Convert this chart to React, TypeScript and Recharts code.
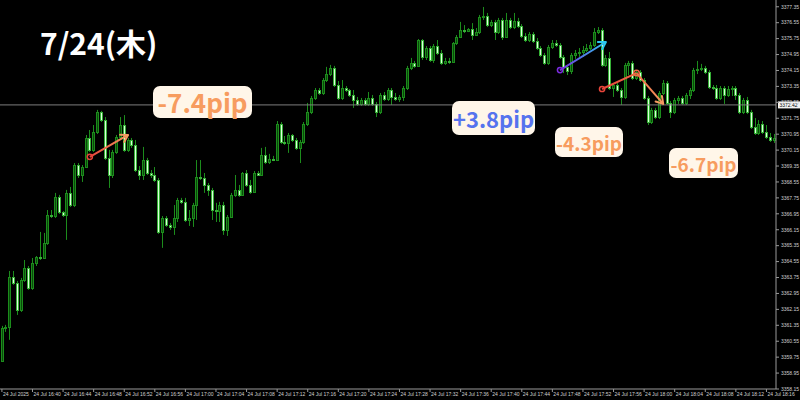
import { ComposedChart, Bar, XAxis, YAxis, ReferenceLine } from "recharts";

// x axis labels, one every 8 candles
const tickLabels = [
  "24 Jul 2025", "24 Jul 16:40", "24 Jul 16:44", "24 Jul 16:48", "24 Jul 16:52", "24 Jul 16:56",
  "24 Jul 17:00", "24 Jul 17:04", "24 Jul 17:08", "24 Jul 17:12", "24 Jul 17:16", "24 Jul 17:20",
  "24 Jul 17:24", "24 Jul 17:28", "24 Jul 17:32", "24 Jul 17:36", "24 Jul 17:40", "24 Jul 17:44",
  "24 Jul 17:48", "24 Jul 17:52", "24 Jul 17:56", "24 Jul 18:00", "24 Jul 18:04", "24 Jul 18:08",
  "24 Jul 18:12", "24 Jul 18:16",
];

const priceTicks = [
  3358.15, 3358.95, 3359.75, 3360.55, 3361.35, 3362.15, 3362.95, 3363.75, 3364.55, 3365.35,
  3366.15, 3366.95, 3367.75, 3368.55, 3369.35, 3370.15, 3370.95, 3371.75, 3372.55, 3373.35,
  3374.15, 3374.95, 3375.75, 3376.55, 3377.35,
];

const currentPrice = 3372.42;
const firstOpen = 3359.56;

const closes = [
  3361.22, 3361.27, 3363.78, 3363.48, 3362.12, 3363.63, 3364.23, 3363.23, 3364.48, 3364.78,
  3364.73, 3365.49, 3366.89, 3366.84, 3367.80, 3367.04, 3366.89, 3368.00, 3367.39, 3369.40,
  3368.90, 3369.30, 3370.76, 3370.16, 3371.06, 3372.07, 3371.66, 3369.76, 3368.90, 3370.06,
  3370.81, 3371.41, 3370.16, 3370.66, 3370.41, 3369.15, 3368.90, 3369.65, 3369.00, 3368.90,
  3368.65, 3366.04, 3366.74, 3366.39, 3366.29, 3366.74, 3367.65, 3367.55, 3366.64, 3366.74,
  3367.39, 3368.80, 3368.75, 3368.40, 3368.15, 3367.14, 3367.09, 3367.39, 3366.14, 3366.79,
  3367.90, 3368.15, 3367.90, 3369.00, 3368.40, 3368.05, 3369.00, 3368.90, 3369.91, 3369.55,
  3369.71, 3369.65, 3371.46, 3370.56, 3370.51, 3370.91, 3370.66, 3370.26, 3370.56, 3371.46,
  3372.07, 3372.77, 3373.17, 3373.02, 3373.67, 3373.97, 3374.28, 3373.42, 3372.77, 3373.27,
  3373.17, 3372.92, 3372.67, 3372.47, 3372.67, 3372.47, 3372.77, 3372.47, 3372.07, 3372.92,
  3372.72, 3373.17, 3372.82, 3372.72, 3372.82, 3373.27, 3374.28, 3374.53, 3374.38, 3375.68,
  3374.83, 3375.28, 3374.68, 3375.38, 3375.03, 3374.53, 3374.63, 3374.58, 3375.53, 3375.83,
  3376.18, 3376.13, 3376.23, 3375.93, 3376.08, 3376.84, 3376.89, 3376.43, 3376.59, 3376.08,
  3376.69, 3375.83, 3376.69, 3376.33, 3376.64, 3376.38, 3375.88, 3375.68, 3375.98, 3375.63,
  3375.28, 3374.93, 3374.53, 3375.33, 3375.53, 3375.43, 3374.83, 3374.33, 3374.12, 3374.93,
  3375.03, 3375.08, 3375.18, 3375.28, 3375.43, 3376.08, 3376.18, 3374.43, 3374.78, 3373.27,
  3373.42, 3373.17, 3372.82, 3374.43, 3374.53, 3373.77, 3374.07, 3373.67, 3372.77, 3371.56,
  3372.17, 3371.81, 3373.02, 3373.52, 3372.52, 3372.07, 3372.67, 3372.77, 3372.52, 3372.92,
  3373.17, 3374.17, 3374.22, 3374.28, 3374.07, 3373.32, 3373.27, 3372.77, 3373.27, 3372.92,
  3373.22, 3373.27, 3372.92, 3372.07, 3372.67, 3372.07, 3371.31, 3371.01, 3371.46, 3371.06,
  3370.81, 3370.66, 3370.76,
];

const highs = [
  3361.32, 3361.37, 3364.08, 3364.08, 3363.58, 3363.73, 3364.63, 3364.33, 3364.73, 3364.83,
  3366.04, 3365.99, 3367.14, 3367.14, 3368.00, 3367.90, 3367.09, 3368.15, 3368.30, 3369.50,
  3369.50, 3369.40, 3370.91, 3371.16, 3371.41, 3372.17, 3372.12, 3371.81, 3370.16, 3370.16,
  3370.91, 3371.81, 3371.91, 3370.76, 3370.76, 3370.66, 3369.35, 3370.31, 3369.76, 3369.15,
  3369.30, 3368.75, 3366.84, 3366.84, 3366.49, 3367.39, 3367.75, 3367.75, 3367.75, 3367.14,
  3367.50, 3369.65, 3369.65, 3369.00, 3368.50, 3368.25, 3367.50, 3367.55, 3367.55, 3366.89,
  3368.00, 3368.90, 3368.40, 3369.05, 3369.15, 3368.65, 3369.10, 3369.10, 3370.26, 3370.31,
  3369.96, 3369.86, 3371.61, 3371.56, 3370.86, 3371.01, 3370.96, 3370.76, 3370.66, 3371.56,
  3372.52, 3372.87, 3373.27, 3373.27, 3373.77, 3374.33, 3374.43, 3374.38, 3373.62, 3373.67,
  3373.37, 3373.22, 3373.17, 3372.82, 3372.77, 3372.77, 3373.07, 3372.92, 3372.57, 3373.02,
  3373.07, 3373.27, 3373.27, 3373.02, 3372.92, 3373.37, 3374.38, 3374.78, 3374.63, 3375.73,
  3375.73, 3375.38, 3375.38, 3375.48, 3375.68, 3375.18, 3374.78, 3374.78, 3375.58, 3375.93,
  3376.59, 3376.43, 3376.28, 3376.53, 3376.28, 3376.94, 3377.34, 3377.04, 3376.69, 3376.69,
  3376.79, 3376.79, 3377.04, 3376.79, 3377.04, 3376.79, 3376.48, 3376.03, 3376.08, 3376.08,
  3375.78, 3375.38, 3375.03, 3375.43, 3375.68, 3375.68, 3375.53, 3374.93, 3374.43, 3375.03,
  3375.18, 3375.28, 3375.38, 3375.48, 3375.58, 3376.28, 3376.33, 3376.28, 3374.93, 3375.08,
  3373.52, 3373.52, 3373.27, 3374.53, 3374.63, 3374.63, 3374.17, 3374.17, 3373.77, 3372.87,
  3372.27, 3372.27, 3373.12, 3373.67, 3373.62, 3372.62, 3372.77, 3372.87, 3372.87, 3373.02,
  3373.27, 3374.28, 3374.63, 3374.48, 3374.38, 3374.17, 3373.42, 3373.42, 3373.37, 3373.37,
  3373.37, 3373.37, 3373.37, 3373.02, 3372.77, 3372.82, 3372.17, 3371.76, 3371.66, 3371.61,
  3371.41, 3371.01, 3370.96,
];

const lows = [
  3359.51, 3361.02, 3360.62, 3363.38, 3361.87, 3362.02, 3363.53, 3363.13, 3363.13, 3364.33,
  3364.63, 3364.68, 3365.39, 3366.74, 3366.74, 3366.94, 3366.79, 3365.64, 3367.29, 3367.29,
  3368.75, 3368.55, 3369.25, 3370.06, 3370.06, 3370.96, 3371.56, 3369.65, 3368.25, 3368.75,
  3369.96, 3370.71, 3370.06, 3370.06, 3370.26, 3369.05, 3368.65, 3368.65, 3368.90, 3368.75,
  3368.55, 3365.94, 3365.24, 3366.29, 3366.14, 3365.89, 3366.54, 3367.45, 3366.54, 3366.34,
  3366.29, 3366.64, 3368.65, 3368.00, 3367.85, 3366.64, 3366.54, 3366.54, 3365.89, 3365.84,
  3366.74, 3367.80, 3367.80, 3367.85, 3368.30, 3367.95, 3368.00, 3368.85, 3368.85, 3369.45,
  3369.45, 3369.60, 3369.60, 3370.46, 3370.41, 3370.01, 3370.56, 3370.16, 3369.50, 3370.46,
  3371.36, 3371.96, 3372.67, 3372.92, 3372.92, 3373.57, 3373.87, 3373.32, 3372.67, 3372.67,
  3373.07, 3372.82, 3372.27, 3372.37, 3372.37, 3372.37, 3372.37, 3372.37, 3371.81, 3371.96,
  3372.62, 3372.62, 3372.42, 3372.62, 3372.57, 3372.62, 3373.17, 3374.17, 3374.28, 3374.33,
  3374.68, 3374.68, 3374.58, 3374.53, 3374.93, 3374.43, 3374.43, 3374.48, 3374.53, 3375.43,
  3375.78, 3376.03, 3376.08, 3375.68, 3375.88, 3375.98, 3376.69, 3376.33, 3376.33, 3375.68,
  3375.98, 3375.68, 3375.78, 3376.23, 3376.23, 3376.28, 3375.78, 3375.58, 3375.58, 3375.53,
  3375.18, 3374.83, 3374.43, 3374.43, 3375.23, 3375.33, 3374.73, 3374.02, 3373.92, 3373.97,
  3374.73, 3374.83, 3374.83, 3375.08, 3375.18, 3375.33, 3375.98, 3374.33, 3374.33, 3373.17,
  3372.82, 3373.07, 3372.42, 3372.72, 3373.92, 3373.67, 3373.67, 3373.57, 3372.67, 3371.41,
  3371.46, 3371.71, 3371.71, 3372.92, 3372.42, 3371.76, 3371.96, 3372.47, 3372.42, 3372.42,
  3372.72, 3373.07, 3373.97, 3374.12, 3373.97, 3373.22, 3373.17, 3372.67, 3372.67, 3372.47,
  3372.82, 3372.87, 3372.67, 3371.96, 3371.96, 3371.96, 3371.21, 3370.91, 3370.91, 3370.96,
  3370.71, 3370.56, 3370.51,
];

// drawn arrows: [candle index, price] start and end
const arrowFrom = [[23, 3369.81], [146, 3374.17], [157, 3373.22], [166, 3374.02]];
const arrowTo = [[33, 3370.91], [158, 3375.58], [166, 3374.02], [173, 3372.47]];

const pipTexts = ["-7.4pip", "+3.8pip", "-4.3pip", "-6.7pip"];

const candles = closes.map((close, i) => ({
  t: i,
  open: i === 0 ? firstOpen : closes[i - 1],
  close,
  high: highs[i],
  low: lows[i],
  range: [lows[i], highs[i]],
}));

const AXIS = "#9a9a9a";
const FONT = "'Liberation Sans', Arial, sans-serif";
const JP = "'Noto Sans CJK JP', 'Noto Sans', sans-serif";
const ORANGE = "#f79c5f";

function Candle(props: any) {
  const { x, y, width, height, payload } = props;
  if (!payload) return null;
  const { open, close, high, low } = payload;
  const top = Math.min(y, y + height);
  const h = Math.abs(height);
  const k = high > low ? h / (high - low) : 0;
  const yOf = (v: number) => top + (high - v) * k;
  const cx = Math.floor(x + width / 2) + 0.5;
  const bull = close >= open;
  const bTop = Math.round(yOf(Math.max(open, close)));
  const bBot = Math.round(yOf(Math.min(open, close)));
  return (
    <g>
      <line x1={cx} x2={cx} y1={top} y2={top + h} stroke="#1c8c1c" strokeWidth={1} />
      <rect
        x={cx - 1}
        y={bTop + 0.5}
        width={2}
        height={Math.max(bBot - bTop, 0)}
        fill={bull ? "#0a4a0a" : "#dcffdc"}
        stroke={bull ? "#1c8c1c" : "#36b036"}
        strokeWidth={1}
      />
    </g>
  );
}

function XTick(props: any) {
  const { x, y, payload } = props;
  return (
    <text x={x + 1} y={y + 2} fill="#d0d0d0" fontSize={5} fontFamily={FONT} textAnchor="start">
      {tickLabels[payload.value / 8]}
    </text>
  );
}

function PriceTag(props: any) {
  const vb = props.viewBox;
  if (!vb) return null;
  const x = vb.x + vb.width + 2;
  const y = vb.y;
  return (
    <g>
      <rect x={x} y={y - 3.5} width={22} height={7} fill="#f2f2f2" />
      <text x={x + 1.5} y={y} dy="0.35em" fontSize={5} fill="#000" fontFamily={FONT}>
        {currentPrice.toFixed(2)}
      </text>
    </g>
  );
}

const arrowStyles = [
  { c1: "#e8443a", c2: "#f59a60", start: true, head: true, mid: false },
  { c1: "#7b2be0", c2: "#2cc8f0", start: true, head: true, mid: false },
  { c1: "#e8443a", c2: "#f06a45", start: true, head: false, mid: true },
  { c1: "#f06a45", c2: "#f59a60", start: false, head: true, mid: false },
];

function makeArrow(k: number) {
  const s = arrowStyles[k];
  return (p: any) => {
    const { x1, y1, x2, y2 } = p;
    if (x1 == null) return null;
    const ang = Math.atan2(y2 - y1, x2 - x1);
    const L = 8;
    const hx = (d: number) => x2 - L * Math.cos(ang + d);
    const hy = (d: number) => y2 - L * Math.sin(ang + d);
    const id = `arrowGrad${k}`;
    return (
      <g>
        <defs>
          <linearGradient id={id} gradientUnits="userSpaceOnUse" x1={x1} y1={y1} x2={x2} y2={y2}>
            <stop offset="0%" stopColor={s.c1} />
            <stop offset="100%" stopColor={s.c2} />
          </linearGradient>
        </defs>
        <line x1={x1} y1={y1} x2={x2} y2={y2} stroke={`url(#${id})`} strokeWidth={2} />
        {s.start && <circle cx={x1} cy={y1} r={2.6} fill="none" stroke={s.c1} strokeWidth={1.5} />}
        {s.mid && <circle cx={x2} cy={y2} r={2.8} fill="none" stroke={s.c2} strokeWidth={1.5} />}
        {s.head && (
          <polyline
            points={`${hx(0.55)},${hy(0.55)} ${x2},${y2} ${hx(-0.55)},${hy(-0.55)}`}
            fill="none"
            stroke={s.c2}
            strokeWidth={2}
            strokeLinecap="round"
            strokeLinejoin="round"
          />
        )}
      </g>
    );
  };
}

const boxBase = {
  position: "absolute" as const,
  background: "#fff6e9",
  borderRadius: 7,
  display: "flex",
  alignItems: "center",
  justifyContent: "center",
  fontFamily: JP,
  fontWeight: 700,
  lineHeight: 1,
};

export default function App() {
  return (
    <div style={{ position: "relative", width: 800, height: 400, background: "#000", overflow: "hidden" }}>
      <style>{"body{margin:0;background:#000}"}</style>
      <ComposedChart
        width={800}
        height={400}
        data={candles}
        margin={{ top: 0, right: 0, bottom: 0, left: 0 }}
        barCategoryGap={0}
        barGap={0}
      >
        <XAxis
          dataKey="t"
          ticks={tickLabels.map((_, k) => k * 8)}
          interval={0}
          height={11}
          tick={<XTick />}
          tickSize={3}
          axisLine={{ stroke: AXIS }}
          tickLine={{ stroke: AXIS }}
        />
        <YAxis
          orientation="right"
          width={24}
          domain={[3358.15, 3377.69]}
          allowDataOverflow
          ticks={priceTicks}
          interval={0}
          tickSize={3}
          tickMargin={2}
          tick={{ fill: "#d0d0d0", fontSize: 5, fontFamily: FONT }}
          tickFormatter={(v: number) => v.toFixed(2)}
          axisLine={{ stroke: AXIS }}
          tickLine={{ stroke: AXIS }}
        />
        <ReferenceLine y={currentPrice} stroke="#7d7d7d" strokeWidth={1} label={<PriceTag />} />
        <Bar dataKey="range" shape={<Candle />} isAnimationActive={false} />
        {arrowFrom.map((f, k) => (
          <ReferenceLine
            key={k}
            segment={[
              { x: f[0], y: f[1] },
              { x: arrowTo[k][0], y: arrowTo[k][1] },
            ]}
            ifOverflow="visible"
            shape={makeArrow(k)}
          />
        ))}
      </ComposedChart>

      <div
        style={{
          position: "absolute",
          left: 40,
          top: 26,
          color: "#fff",
          fontFamily: JP,
          fontWeight: 700,
          fontSize: 30,
          lineHeight: "32px",
        }}
      >
        7/24(木)
      </div>

      <div style={{ ...boxBase, left: 153, top: 86, width: 99, height: 32, color: ORANGE, fontSize: 26 }}>
        {pipTexts[0]}
      </div>
      <div style={{ ...boxBase, left: 452, top: 101, width: 83, height: 34, color: "#5673ee", fontSize: 22 }}>
        {pipTexts[1]}
      </div>
      <div style={{ ...boxBase, left: 555, top: 127, width: 68, height: 30, color: ORANGE, fontSize: 19 }}>
        {pipTexts[2]}
      </div>
      <div style={{ ...boxBase, left: 669, top: 148, width: 69, height: 30, color: ORANGE, fontSize: 19 }}>
        {pipTexts[3]}
      </div>
    </div>
  );
}
